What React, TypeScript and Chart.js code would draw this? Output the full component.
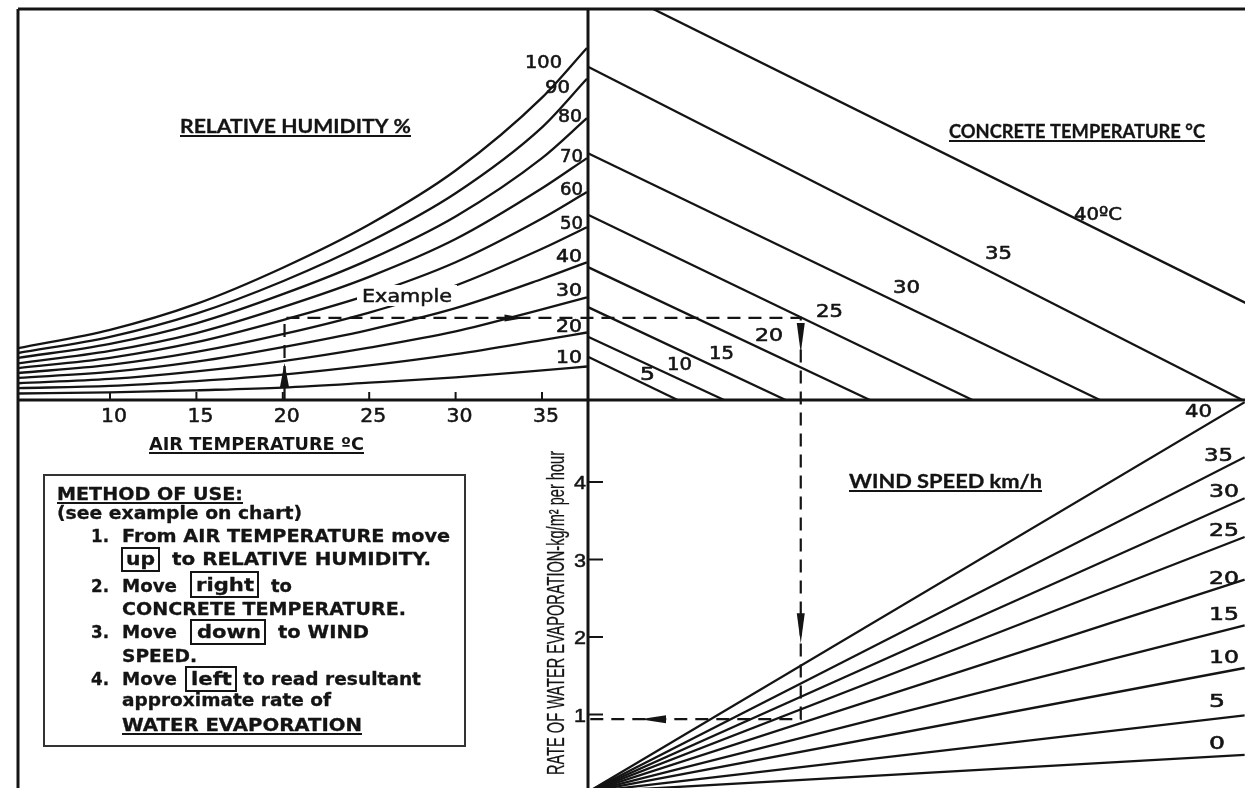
import React, { useEffect, useRef } from "react";
import { Chart, registerables } from "chart.js";

Chart.register(...registerables);

// ---------- DATA ----------
// Air temperature (°C) at which the relative-humidity curves are sampled
const airTemps = [4.68, 10, 15, 20, 25, 30, 35, 37.6];
const humidityLevels = [100, 90, 80, 70, 60, 50, 40, 30, 20, 10];
// Vapour pressure of the air (kPa)
const rh100 = [0.96, 1.30, 1.78, 2.45, 3.25, 4.25, 5.60, 6.52];
const rh90 = [0.87, 1.17, 1.60, 2.20, 2.93, 3.83, 5.05, 5.95];
const rh80 = [0.78, 1.04, 1.42, 1.96, 2.60, 3.40, 4.48, 5.22];
const rh70 = [0.68, 0.91, 1.24, 1.72, 2.28, 2.98, 3.92, 4.48];
const rh60 = [0.59, 0.78, 1.07, 1.48, 1.95, 2.55, 3.36, 3.85];
const rh50 = [0.50, 0.65, 0.89, 1.22, 1.62, 2.12, 2.80, 3.20];
const rh40 = [0.41, 0.52, 0.71, 0.98, 1.30, 1.70, 2.24, 2.55];
const rh30 = [0.31, 0.39, 0.53, 0.72, 0.97, 1.27, 1.68, 1.90];
const rh20 = [0.22, 0.26, 0.35, 0.47, 0.64, 0.85, 1.11, 1.25];
const rh10 = [0.12, 0.14, 0.18, 0.23, 0.32, 0.42, 0.55, 0.62];
const humidityCurves = [rh100, rh90, rh80, rh70, rh60, rh50, rh40, rh30, rh20, rh10];

// Concrete temperature lines: vapour pressure where each meets the centre axis,
// and vapour-pressure difference where each meets the horizontal axis
const concreteTemps = [5, 10, 15, 20, 25, 30, 35, 40];
const concreteStartVp = [0.80, 1.17, 1.72, 2.46, 3.43, 4.57, 6.17, 7.84];
const concreteEndDiff = [0.83, 1.26, 1.83, 2.61, 3.56, 4.74, 6.06, 7.90];

// Wind speed lines: evaporation rate reached at the right edge of the chart
const windSpeeds = [0, 5, 10, 15, 20, 25, 30, 35, 40];
const windRateAtEdge = [0.48, 0.99, 1.60, 2.15, 2.74, 3.29, 3.79, 4.32, 5.03];
const windEdgeDiff = 6.08;

// Tick labels
const airTempTicks = [10, 15, 20, 25, 30, 35];
const rateTicks = [1, 2, 3, 4];

// Worked example
const exampleAirTemp = 20.1;
const exampleVapour = 1.52;
const exampleDiff = 1.97;
const exampleRate = 0.94;

// ---------- LAYOUT (pixel calibration of the quadrant scales) ----------
const W = 1245;
const H = 788;
const PAD_L = 18;
const PAD_T = 9;
const AIR_PX10 = 110;
const AIR_PPU = 17.28;
const MID_X = 588;
const DIFF_PPU = 108;
const MID_Y = 400;
const VP_PPU = 54;
const RATE0_Y = 792;
const RATE_PPU = 77.5;

const INK = "#141414";

function fitText(
  ctx: CanvasRenderingContext2D,
  text: string,
  x: number,
  baseline: number,
  width: number,
  font: string,
  heavy = 0
) {
  ctx.save();
  ctx.font = font;
  ctx.textAlign = "left";
  ctx.textBaseline = "alphabetic";
  const w = ctx.measureText(text).width || 1;
  ctx.translate(x, baseline);
  ctx.scale(width / w, 1);
  ctx.fillText(text, 0, 0);
  if (heavy > 0) {
    ctx.lineWidth = heavy;
    ctx.lineJoin = "round";
    ctx.strokeStyle = ctx.fillStyle as string;
    ctx.strokeText(text, 0, 0);
  }
  ctx.restore();
}

function seg(ctx: CanvasRenderingContext2D, x1: number, y1: number, x2: number, y2: number) {
  ctx.beginPath();
  ctx.moveTo(x1, y1);
  ctx.lineTo(x2, y2);
  ctx.stroke();
}

function arrow(
  ctx: CanvasRenderingContext2D,
  tipX: number,
  tipY: number,
  dirX: number,
  dirY: number,
  len: number,
  half: number
) {
  const bx = tipX - dirX * len;
  const by = tipY - dirY * len;
  const px = -dirY;
  const py = dirX;
  ctx.beginPath();
  ctx.moveTo(tipX, tipY);
  ctx.lineTo(bx + px * half, by + py * half);
  ctx.lineTo(bx - px * half, by - py * half);
  ctx.closePath();
  ctx.fill();
}

const overlayPlugin = {
  id: "nomoOverlay",
  afterDatasetsDraw(chart: any) {
    const { ctx, scales, chartArea: ca } = chart;
    const xA = scales.xAir;
    const xR = scales.xR;
    const yT = scales.yTop;
    const yE = scales.yEvap;
    const X0 = xR.getPixelForValue(0);
    const Y0 = yT.getPixelForValue(0);

    ctx.save();
    ctx.strokeStyle = INK;
    ctx.fillStyle = INK;

    // "Example" label with white knock-out
    ctx.fillStyle = "#fff";
    ctx.fillRect(357, 285, 100, 21);
    ctx.fillStyle = INK;
    fitText(ctx, "Example", 362, 302, 90, '18px "DejaVu Sans"', 0.5);

    // frame and centre axes
    ctx.lineWidth = 3;
    seg(ctx, ca.left, ca.top, ca.right, ca.top);
    seg(ctx, ca.left, ca.top, ca.left, ca.bottom);
    seg(ctx, X0, ca.top, X0, ca.bottom);
    seg(ctx, ca.left, Y0, ca.right, Y0);

    const numFont = '18px "DejaVu Sans"';

    // air temperature ticks + labels
    ctx.lineWidth = 2;
    airTempTicks.forEach((t) => {
      const px = xA.getPixelForValue(t);
      seg(ctx, px, Y0, px, Y0 - 8);
      fitText(ctx, String(t), px + 4 - 13, 422, 26, '19px "DejaVu Sans"', 0.5);
    });

    // evaporation rate ticks + labels
    rateTicks.forEach((r) => {
      const py = yE.getPixelForValue(r);
      seg(ctx, X0, py, X0 + 15, py);
      fitText(ctx, String(r), X0 - 14, py + 7, 12, '19px "Liberation Sans Narrow", "Liberation Sans"', 0.5);
    });

    // rotated axis title
    ctx.save();
    ctx.translate(564, 613);
    ctx.rotate(-Math.PI / 2);
    fitText(
      ctx,
      "RATE OF WATER EVAPORATION-kg/m\u00B2 per hour",
      -162,
      0,
      324,
      '23px "Liberation Sans Narrow", "Liberation Sans"',
      0.3
    );
    ctx.restore();

    // headings
    const heading = (t: string, x: number, b: number, w: number, font: string, ul: number, hv = 0) => {
      fitText(ctx, t, x, b, w, font, hv);
      ctx.fillRect(x, ul, w, 2);
    };
    heading("RELATIVE HUMIDITY %", 180, 133, 231, 'bold 18px Lato', 135, 0.3);
    heading("CONCRETE TEMPERATURE \u00B0C", 949, 138, 256, 'bold 18px Lato', 140, 0.3);
    heading("WIND SPEED km/h", 849, 488, 193, 'bold 18px Lato', 490, 0.3);
    heading("AIR TEMPERATURE \u00BAC", 149, 450, 215, 'bold 17px "DejaVu Sans"', 452);

    // humidity labels
    const hLab: [number, number, number][] = [
      [525, 68, 37], [545, 93, 25], [558, 122, 24], [560, 162, 23], [560, 195, 23],
      [560, 229, 23], [556, 262, 26], [556, 296, 26], [556, 332, 26], [556, 363, 26],
    ];
    humidityLevels.forEach((h, i) => {
      const [x, b, w] = hLab[i];
      fitText(ctx, String(h), x, b, w, numFont, 0.6);
    });

    // concrete labels
    const cLab: [number, number, number][] = [
      [640, 380, 15], [667, 370, 25], [709, 359, 25], [755, 341, 28],
      [816, 317, 27], [893, 293, 27], [985, 259, 27], [1074, 220, 48],
    ];
    concreteTemps.forEach((c, i) => {
      const [x, b, w] = cLab[i];
      fitText(ctx, i === concreteTemps.length - 1 ? `${c}\u00BAC` : String(c), x, b, w, numFont, 0.6);
    });

    // wind labels
    const wLab: [number, number, number][] = [
      [1209, 749, 16], [1209, 707, 16], [1209, 663, 30], [1209, 620, 30], [1209, 584, 30],
      [1209, 536, 30], [1209, 497, 30], [1204, 461, 29], [1185, 417, 27],
    ];
    windSpeeds.forEach((s, i) => {
      const [x, b, w] = wLab[i];
      fitText(ctx, String(s), x, b, w, numFont, 0.6);
    });

    // worked example (dashed path through the four quadrants)
    const ex = xA.getPixelForValue(exampleAirTemp);
    const ey = yT.getPixelForValue(exampleVapour);
    const dx = xR.getPixelForValue(exampleDiff);
    const ry = yE.getPixelForValue(exampleRate);
    ctx.lineWidth = 2.2;
    ctx.setLineDash([13, 8]);
    ctx.beginPath();
    ctx.moveTo(ex, Y0);
    ctx.lineTo(ex, ey);
    ctx.lineTo(dx, ey);
    ctx.lineTo(dx, ry);
    ctx.lineTo(X0, ry);
    ctx.stroke();
    ctx.setLineDash([]);
    arrow(ctx, ex, Y0 - 37, 0, -1, 24, 4.5);
    arrow(ctx, ex + 240, ey, 1, 0, 20, 3.5);
    arrow(ctx, dx, ey + 35, 0, 1, 30, 4);
    arrow(ctx, dx, ry - 76, 0, 1, 30, 4);
    arrow(ctx, X0 + 52, ry, -1, 0, 26, 4);

    // method of use box
    ctx.strokeStyle = "#333";
    ctx.lineWidth = 2;
    ctx.strokeRect(44, 475, 421, 271);
    ctx.strokeStyle = INK;
    const bf = 'bold 17px "DejaVu Sans"';
    const hv = 0.3;
    heading("METHOD OF USE:", 57, 500, 186, bf, 502, hv);
    fitText(ctx, "(see example on chart)", 57, 519, 245, bf, hv);
    fitText(ctx, "1.", 91, 542, 18, bf, hv);
    fitText(ctx, "From AIR TEMPERATURE move", 122, 542, 328, bf, hv);
    ctx.lineWidth = 2;
    ctx.strokeRect(122, 548, 37, 23);
    fitText(ctx, "up", 126, 565, 29, bf, hv);
    fitText(ctx, "to RELATIVE HUMIDITY.", 172, 565, 259, bf, hv);
    fitText(ctx, "2.", 91, 592, 18, bf, hv);
    fitText(ctx, "Move", 122, 592, 55, bf, hv);
    ctx.lineWidth = 2;
    ctx.strokeRect(191, 572, 67, 25);
    fitText(ctx, "right", 196, 591, 58, bf, hv);
    fitText(ctx, "to", 271, 592, 21, bf, hv);
    fitText(ctx, "CONCRETE TEMPERATURE.", 122, 615, 284, bf, hv);
    fitText(ctx, "3.", 91, 638, 18, bf, hv);
    fitText(ctx, "Move", 122, 638, 55, bf, hv);
    ctx.lineWidth = 2;
    ctx.strokeRect(191, 620, 74, 24);
    fitText(ctx, "down", 197, 638, 64, bf, hv);
    fitText(ctx, "to WIND", 278, 638, 91, bf, hv);
    fitText(ctx, "SPEED.", 122, 662, 75, bf, hv);
    fitText(ctx, "4.", 91, 685, 18, bf, hv);
    fitText(ctx, "Move", 122, 685, 55, bf, hv);
    ctx.lineWidth = 2;
    ctx.strokeRect(186, 667, 50, 24);
    fitText(ctx, "left", 191, 685, 41, bf, hv);
    fitText(ctx, "to read resultant", 243, 685, 178, bf, hv);
    fitText(ctx, "approximate rate of", 122, 706, 209, bf, hv);
    heading("WATER EVAPORATION", 122, 731, 240, bf, 733, hv);

    ctx.restore();
  },
};

export default function App() {
  const ref = useRef<HTMLCanvasElement | null>(null);

  useEffect(() => {
    const canvas = ref.current;
    if (!canvas) return;

    const lineStyle = {
      borderColor: INK,
      borderWidth: 2.3,
      pointRadius: 0,
      pointHoverRadius: 0,
      fill: false,
    };

    const humidityDatasets = humidityLevels.map((rh, i) => ({
      label: `RH ${rh}%`,
      data: airTemps.map((t, j) => ({ x: t, y: humidityCurves[i][j] })),
      xAxisID: "xAir",
      yAxisID: "yTop",
      cubicInterpolationMode: "monotone" as const,
      ...lineStyle,
    }));

    const concreteDatasets = concreteTemps.map((c, i) => ({
      label: `Concrete ${c}°C`,
      data: [
        { x: 0, y: concreteStartVp[i] },
        { x: concreteEndDiff[i], y: 0 },
      ],
      xAxisID: "xR",
      yAxisID: "yTop",
      tension: 0,
      ...lineStyle,
    }));

    const windDatasets = windSpeeds.map((s, i) => ({
      label: `Wind ${s} km/h`,
      data: [
        { x: 0, y: 0 },
        { x: windEdgeDiff, y: windRateAtEdge[i] },
      ],
      xAxisID: "xR",
      yAxisID: "yEvap",
      tension: 0,
      ...lineStyle,
    }));

    const areaW = W - PAD_L;
    const chart = new Chart(canvas, {
      type: "line",
      data: { datasets: [...humidityDatasets, ...concreteDatasets, ...windDatasets] as any },
      options: {
        responsive: false,
        animation: false,
        events: [],
        layout: { padding: { left: PAD_L, top: PAD_T, right: 0, bottom: 0 } },
        plugins: { legend: { display: false }, tooltip: { enabled: false } },
        scales: {
          xAir: {
            type: "linear",
            axis: "x",
            display: false,
            min: 10 - (AIR_PX10 - PAD_L) / AIR_PPU,
            max: 10 + (PAD_L + areaW - AIR_PX10) / AIR_PPU,
          },
          xR: {
            type: "linear",
            axis: "x",
            display: false,
            min: -(MID_X - PAD_L) / DIFF_PPU,
            max: (W - MID_X) / DIFF_PPU,
          },
          yTop: {
            type: "linear",
            axis: "y",
            display: false,
            min: -(H - MID_Y) / VP_PPU,
            max: (MID_Y - PAD_T) / VP_PPU,
          },
          yEvap: {
            type: "linear",
            axis: "y",
            display: false,
            min: (RATE0_Y - H) / RATE_PPU,
            max: (RATE0_Y - PAD_T) / RATE_PPU,
          },
        } as any,
      },
      plugins: [overlayPlugin as any],
    });

    return () => chart.destroy();
  }, []);

  return (
    <div
      style={{
        position: "fixed",
        left: 0,
        top: 0,
        width: W,
        height: H,
        background: "#fff",
        overflow: "hidden",
      }}
    >
      <canvas ref={ref} width={W} height={H} style={{ display: "block" }} />
    </div>
  );
}
